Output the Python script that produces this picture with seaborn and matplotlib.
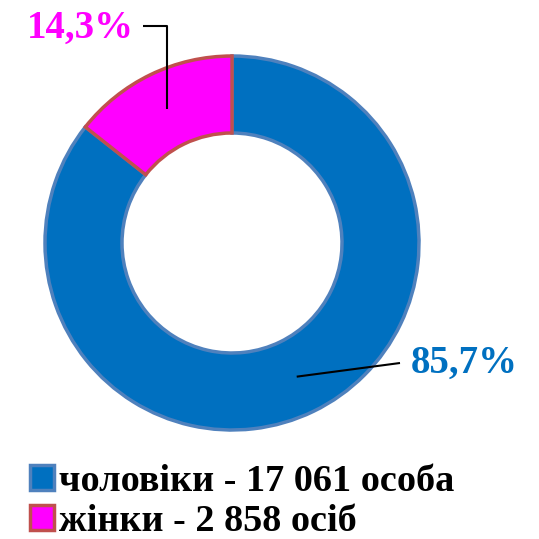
import matplotlib
matplotlib.use("Agg")
import matplotlib.pyplot as plt
import seaborn as sns
import numpy as np

categories = ["чоловіки", "жінки"]
counts = [17061, 2858]
percent_labels = ["85,7%", "14,3%"]
legend_labels = ["чоловіки - 17 061 особа", "жінки - 2 858 осіб"]
fill_colors = ["#0070C0", "#FF00FF"]
edge_colors = ["#4F81BD", "#C0504D"]
label_colors = ["#0070C0", "#FF00FF"]

sns.set_theme(style="white")
plt.rcParams['font.family'] = ['Liberation Serif', 'DejaVu Serif']
plt.rcParams['text.color'] = 'black'

fig = plt.figure(figsize=(5.39, 5.39), dpi=100)
ax = fig.add_axes([0, 0, 1, 1])

cx, cy, R, w = 232, 296, 187, 77
wedges, _ = ax.pie(counts, colors=fill_colors, startangle=90, counterclock=False,
                   center=(cx, cy), radius=R,
                   wedgeprops=dict(width=w, linewidth=2.5))
for wdg, ec in zip(wedges, edge_colors):
    wdg.set_edgecolor(ec)
ax.set_xlim(0, 539)
ax.set_ylim(0, 539)
ax.set_aspect('equal')
ax.axis('off')

rm = R - w / 2
for i, wdg in enumerate(wedges):
    th = np.deg2rad((wdg.theta1 + wdg.theta2) / 2)
    px, py = cx + rm * np.cos(th), cy + rm * np.sin(th)
    if i == 0:
        ax.plot([px, 400], [py, 176], color='black', lw=1.5, solid_capstyle='butt')
        ax.text(411, 176, percent_labels[i], color=label_colors[i], fontsize=28,
                fontweight='bold', ha='left', va='center')
    else:
        ax.plot([px, px, 143], [py, 513, 513], color='black', lw=1.5, solid_capstyle='butt')
        ax.text(134, 511, percent_labels[i], color=label_colors[i], fontsize=28,
                fontweight='bold', ha='right', va='center')

leg = fig.legend(wedges, legend_labels, loc='upper left', bbox_to_anchor=(0.055, 0.139),
                 frameon=False, prop=dict(weight='bold', size=27.5),
                 handlelength=0.63, handleheight=0.63, handletextpad=0.15,
                 labelspacing=0.12, borderpad=0, borderaxespad=0, labelcolor='black')

fig.savefig("out.png", dpi=100, facecolor='white')
